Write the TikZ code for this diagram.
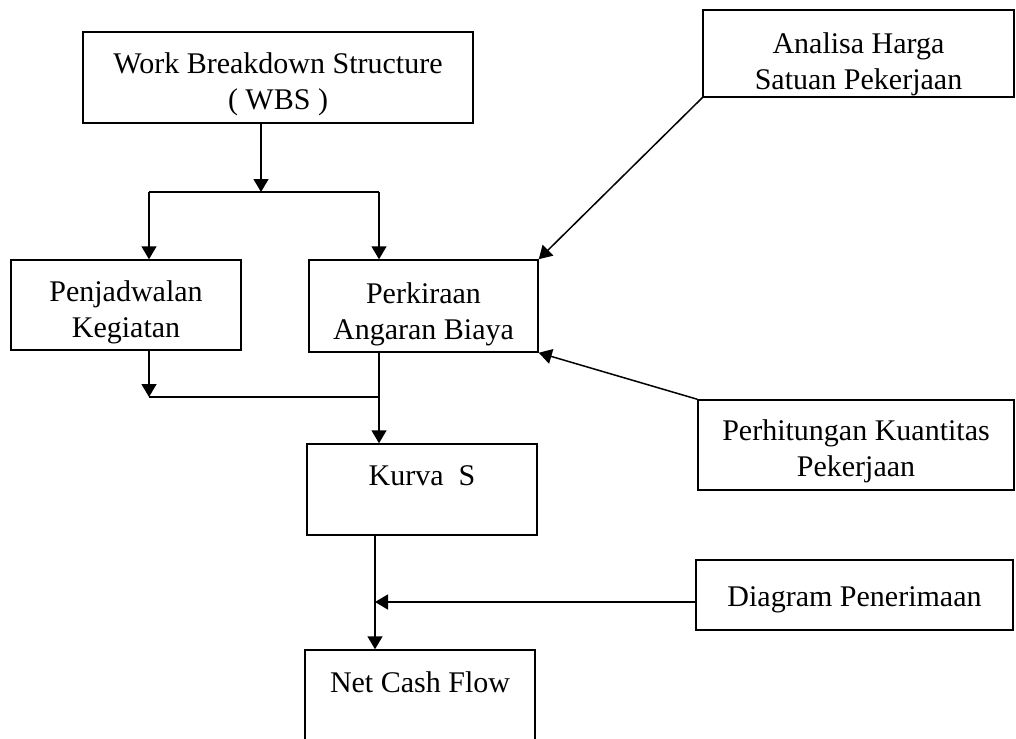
\documentclass[tikz,border=0pt]{standalone}
\usepackage{fontspec}
\setmainfont{Liberation Serif}
\usetikzlibrary{arrows.meta}
% invisible strut that pushes a box's text block downwards
\newcommand\txtdrop[1]{\rule{0pt}{\dimexpr20.5pt+2\dimexpr#1\relax\relax}}
\begin{document}
\begin{tikzpicture}[x=1pt,y=1pt,
  box/.style={draw, line width=1.5pt, inner sep=0pt, align=center,
    font=\fontsize{30}{36}\selectfont},
  arr/.style={line width=1.5pt, -{Triangle[length=13pt,width=15pt]}},
  ln/.style={line width=1.5pt}]
\useasboundingbox (0,0) rectangle (1016,-738);
\clip (0,0) rectangle (1016,-738);

% boxes
\node[box, minimum width=390pt, minimum height=91pt] (wbs) at (278,-77.5)
  {\txtdrop{7pt}Work Breakdown Structure\\( WBS )};
\node[box, minimum width=311pt, minimum height=87pt] (analisa) at (858.5,-53.5)
  {\txtdrop{11pt}Analisa Harga\\Satuan Pekerjaan};
\node[box, minimum width=230pt, minimum height=90pt] (penj) at (126,-305)
  {\txtdrop{7pt}Penjadwalan\\Kegiatan};
\node[box, minimum width=229pt, minimum height=92pt] (perk) at (423.5,-306)
  {\txtdrop{8pt}Perkiraan\\Angaran Biaya};
\node[box, minimum width=316pt, minimum height=90pt] (perh) at (856,-445)
  {\txtdrop{6pt}Perhitungan Kuantitas\\Pekerjaan};
\node[box, minimum width=230pt, minimum height=91pt, text height=20pt, text depth=29pt]
  (kurva) at (422,-489.5) {Kurva\ \ S};
\node[box, minimum width=317pt, minimum height=70pt] (diag) at (854.5,-595)
  {\txtdrop{4pt}Diagram Penerimaan};
\node[box, minimum width=230pt, minimum height=110pt, text height=20pt, text depth=46pt]
  (ncf) at (420,-705) {Net Cash Flow};

% junction points
\coordinate (j0) at (261,-192);
\coordinate (jl) at (149,-192);
\coordinate (jr) at (379,-192);
\coordinate (ml) at (149,-397);
\coordinate (mr) at (379,-397);
\coordinate (mc) at (375,-602);

% WBS split
\draw[arr] (wbs.south -| j0) -- (j0);
\draw[ln] (jl) -- (jr);
\draw[arr] (jl) -- (jl |- penj.north);
\draw[arr] (jr) -- (jr |- perk.north);

% inputs to the cost estimate
\draw[arr] (analisa.south west) -- (perk.north east);
\draw[arr] (perh.north west) -- (perk.south east);

% merge into the S curve
\draw[arr] (penj.south -| ml) -- (ml);
\draw[ln] (ml) -- (mr);
\draw[arr] (perk.south -| mr) -- (mr |- kurva.north);

% S curve and receipts into net cash flow
\draw[arr] (kurva.south -| mc) -- (mc |- ncf.north);
\draw[arr] (diag.west |- mc) -- (mc);
\end{tikzpicture}
\end{document}
